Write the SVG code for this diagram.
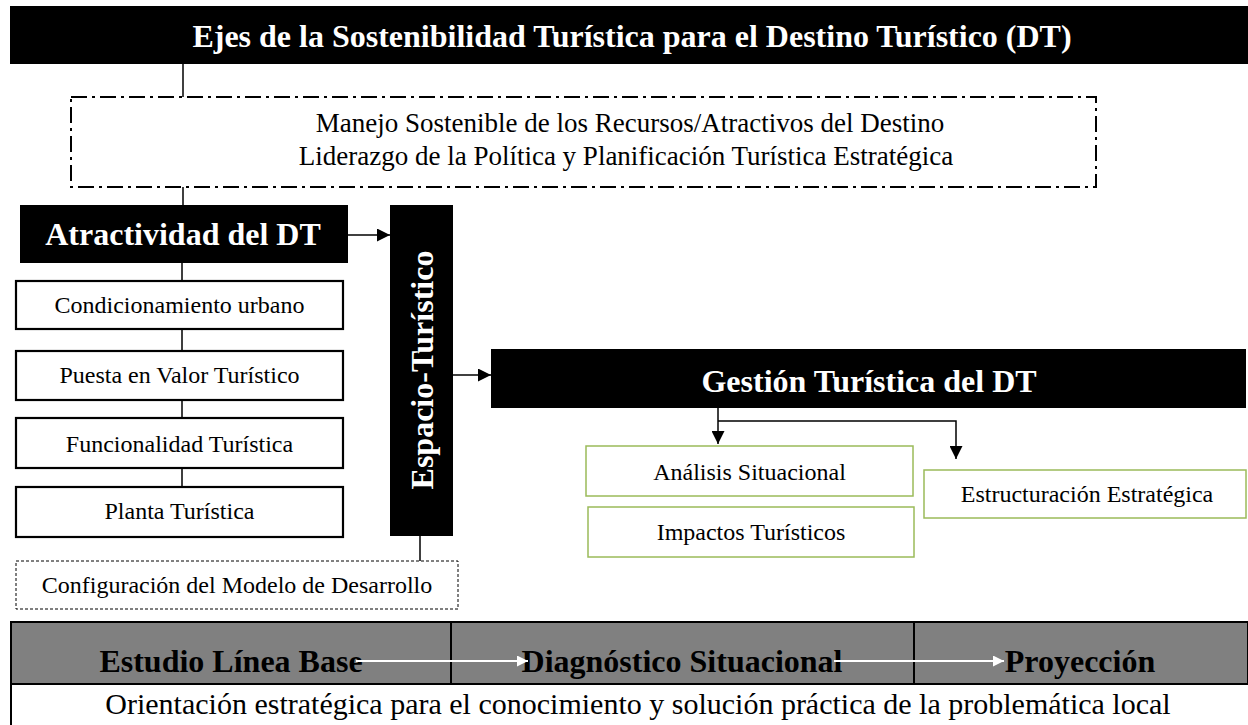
<svg xmlns="http://www.w3.org/2000/svg" width="1248" height="725" viewBox="0 0 1248 725">
<style>
.bh{font-family:"Liberation Serif","Times New Roman",serif;font-weight:bold;font-size:32px;fill:#fff;text-anchor:middle}
.bk{font-family:"Liberation Serif","Times New Roman",serif;font-weight:bold;font-size:32px;fill:#000;text-anchor:middle}
.t{font-family:"Liberation Serif","Times New Roman",serif;font-size:24px;fill:#000;text-anchor:middle}
.t27{font-family:"Liberation Serif","Times New Roman",serif;font-size:27px;fill:#000;text-anchor:middle}
.box{fill:#fff;stroke:#000;stroke-width:2.2}
.gbox{fill:#fff;stroke:#9BBB59;stroke-width:1.5}
.blk{fill:#000}
.ln{fill:none;stroke:#000;stroke-width:1.5}
.wl{fill:none;stroke:#fff;stroke-width:2}
</style>
<defs>
<marker id="ab" viewBox="0 0 10 10" refX="10" refY="5" markerWidth="15" markerHeight="13" markerUnits="userSpaceOnUse" orient="auto"><path d="M0,0 L10,5 L0,10 z" fill="#000"/></marker>
<marker id="aw" viewBox="0 0 10 10" refX="10" refY="5" markerWidth="14" markerHeight="11" markerUnits="userSpaceOnUse" orient="auto"><path d="M0,0 L10,5 L0,10 z" fill="#fff"/></marker>
</defs>
<rect width="1248" height="725" fill="#fff"/>

<g id="connectors">
<path class="ln" d="M183,64 V97"/>
<path class="ln" d="M183,187 V205"/>
<path class="ln" d="M182,263 V281 M182,329 V351 M182,400 V418 M182,468 V487"/>
<path class="ln" d="M420,536 V561"/>
<path class="ln" stroke-width="2" d="M348,235 H390" marker-end="url(#ab)"/>
<path class="ln" stroke-width="2" d="M453,375 H491" marker-end="url(#ab)"/>
<path class="ln" stroke-width="2" d="M718,408 V444" marker-end="url(#ab)"/>
<path class="ln" stroke-width="2" d="M718,421 H956 V459" marker-end="url(#ab)"/>
</g>

<g id="title">
<rect class="blk" x="10" y="6" width="1238" height="58"/>
<text class="bh" x="632" y="47">Ejes de la Sostenibilidad Turística para el Destino Turístico (DT)</text>
</g>

<g id="ejes">
<rect x="71" y="97" width="1025" height="90" fill="none" stroke="#000" stroke-width="2" stroke-dasharray="16 5 3 5"/>
<text class="t27" x="630" y="132">Manejo Sostenible de los Recursos/Atractivos del Destino</text>
<text class="t27" x="626" y="165">Liderazgo de la Política y Planificación Turística Estratégica</text>
</g>

<g id="atractividad">
<rect class="blk" x="20" y="205" width="328" height="58"/>
<text class="bh" x="183" y="245">Atractividad del DT</text>
</g>

<g id="condicionamiento">
<rect class="box" x="16" y="281" width="327" height="48"/>
<text class="t" x="179.5" y="313">Condicionamiento urbano</text>
</g>
<g id="puesta">
<rect class="box" x="16" y="351" width="327" height="49"/>
<text class="t" x="179.5" y="383">Puesta en Valor Turístico</text>
</g>
<g id="funcionalidad">
<rect class="box" x="16" y="418" width="327" height="50"/>
<text class="t" x="179.5" y="452">Funcionalidad Turística</text>
</g>
<g id="planta">
<rect class="box" x="16" y="487" width="327" height="50"/>
<text class="t" x="179.5" y="519">Planta Turística</text>
</g>
<g id="configuracion">
<rect x="16" y="561" width="442" height="48" fill="#fff" stroke="#000" stroke-width="1" stroke-dasharray="3 2"/>
<text class="t" x="237" y="593">Configuración del Modelo de Desarrollo</text>
</g>

<g id="espacio">
<rect class="blk" x="390" y="205" width="63" height="331"/>
<text class="bh" transform="translate(433,370) rotate(-90)" x="0" y="0">Espacio-Turístico</text>
</g>

<g id="gestion">
<rect class="blk" x="491" y="349" width="755" height="59"/>
<text class="bh" x="869" y="392">Gestión Turística del DT</text>
</g>

<g id="analisis">
<rect class="gbox" x="586" y="446" width="327" height="50"/>
<text class="t" x="749.5" y="480">Análisis Situacional</text>
</g>
<g id="impactos">
<rect class="gbox" x="588" y="507" width="326" height="50"/>
<text class="t" x="751" y="540">Impactos Turísticos</text>
</g>
<g id="estructuracion">
<rect class="gbox" x="924" y="470" width="322" height="48"/>
<text class="t" x="1087" y="502">Estructuración Estratégica</text>
</g>

<g id="fases">
<rect x="11" y="622" width="1237" height="62" fill="#808080" stroke="#000" stroke-width="2"/>
<path d="M451,622 V684 M914,622 V684" stroke="#000" stroke-width="2"/>
<text class="bk" x="231" y="672">Estudio Línea Base</text>
<text class="bk" x="682" y="672">Diagnóstico Situacional</text>
<text class="bk" x="1080" y="672">Proyección</text>
<path class="wl" d="M356,661 H528" marker-end="url(#aw)"/>
<path class="wl" d="M834,661 H1004" marker-end="url(#aw)"/>
</g>

<g id="orientacion">
<path d="M11,684 V725" stroke="#000" stroke-width="2"/>
<text font-family="Liberation Serif, Times New Roman, serif" font-size="30" text-anchor="middle" x="638" y="714">Orientación estratégica para el conocimiento y solución práctica de la problemática local</text>
</g>
</svg>
